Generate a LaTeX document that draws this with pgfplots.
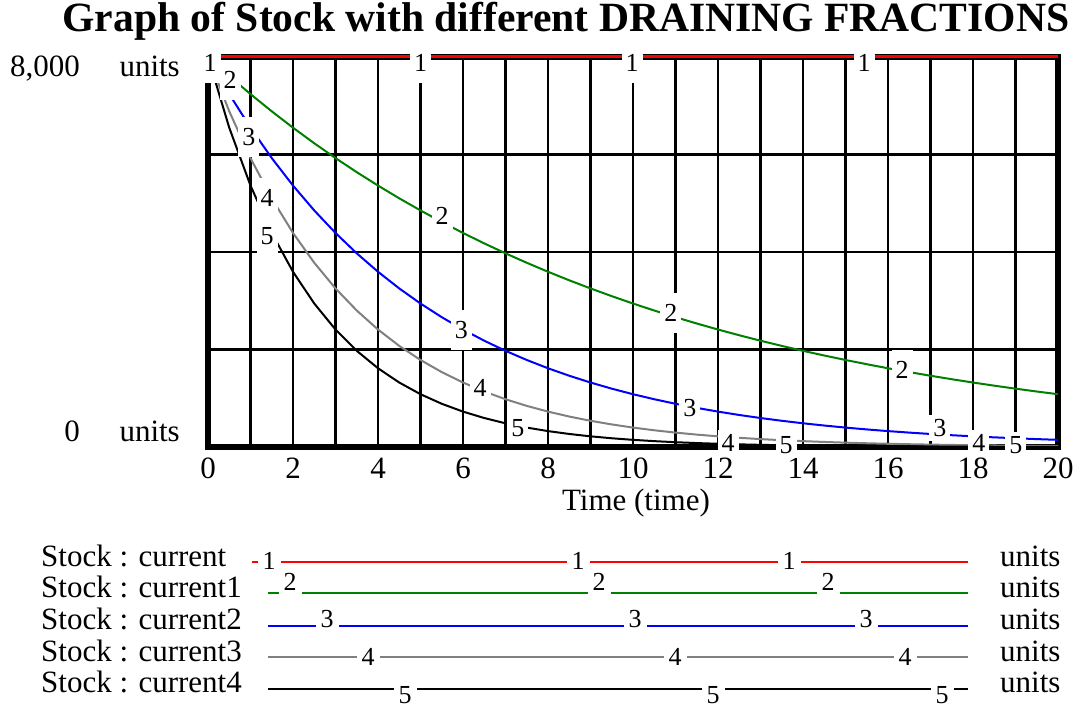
\documentclass[border=0pt]{standalone}
\usepackage{pgfplots}
\pgfplotsset{compat=1.18}
\usepackage{fontspec}
\setmainfont{Liberation Serif}
\newcommand\f{\fontsize{31}{36}\selectfont}
\newcommand\fs{\fontsize{26}{30}\selectfont}
\definecolor{sred}{RGB}{255,0,0}
\definecolor{sgreen}{RGB}{0,128,0}
\definecolor{sblue}{RGB}{0,0,255}
\definecolor{sgray}{RGB}{128,128,128}
\begin{document}
\begin{tikzpicture}[lab/.style={fill=white,inner xsep=4pt,inner ysep=11pt,font=\fs},
  labb/.style={fill=white,inner xsep=4pt,inner ysep=4pt,font=\fs},
  labl/.style={fill=white,inner xsep=5pt,inner ysep=1pt,font=\fs}]
\begin{axis}[
  at={(208pt,261pt)}, anchor=south west,
  width=850pt, height=390pt, scale only axis,
  xmin=0, xmax=20, ymin=0, ymax=8000,
  xtick={0,2,...,20}, minor xtick={1,3,...,19},
  xticklabels={0,2,4,6,8,10,12,14,16,18,20},
  ytick={2000,4000,6000}, yticklabels={,,},
  grid=both,
  grid style={black, line width=2.5pt},
  minor grid style={black, line width=2.5pt},
  major grid style={black, line width=2.5pt},
  major tick length=0pt, minor tick length=0pt,
  axis line style={line width=6pt},
  xticklabel style={font=\f, anchor=base, yshift=-32pt, inner sep=0pt},
  set layers, clip=false,
]
\addplot[sred, line width=3pt] coordinates {(0,8000) (20,8000)};
\addplot[sgreen, line width=2pt] coordinates {
(0,8000)(0.5,7609.8)(1,7238.7)(1.5,6885.6)(2,6549.8)(2.5,6230.4)(3,5926.5)(3.5,5637.5)(4,5362.6)(4.5,5101.0)
(5,4852.2)(5.5,4615.6)(6,4390.5)(6.5,4176.3)(7,3972.7)(7.5,3778.9)(8,3594.6)(8.5,3419.3)(9,3252.5)(9.5,3093.9)
(10,2943.0)(10.5,2799.4)(11,2662.9)(11.5,2533.0)(12,2409.5)(12.5,2292.0)(13,2180.2)(13.5,2073.9)(14,1972.7)(14.5,1876.5)
(15,1785.0)(15.5,1697.9)(16,1615.1)(16.5,1536.4)(17,1461.4)(17.5,1390.2)(18,1322.4)(18.5,1257.9)(19,1196.5)(19.5,1138.2)(20,1082.7)};
\addplot[sblue, line width=2pt] coordinates {
(0,8000)(0.5,7238.7)(1,6549.8)(1.5,5926.5)(2,5362.6)(2.5,4852.2)(3,4390.5)(3.5,3972.7)(4,3594.6)(4.5,3252.5)
(5,2943.0)(5.5,2662.9)(6,2409.5)(6.5,2180.2)(7,1972.7)(7.5,1785.0)(8,1615.1)(8.5,1461.4)(9,1322.4)(9.5,1196.5)
(10,1082.7)(10.5,979.7)(11,886.4)(11.5,802.1)(12,725.8)(12.5,656.7)(13,594.2)(13.5,537.6)(14,486.5)(14.5,440.2)
(15,398.3)(15.5,360.4)(16,326.1)(16.5,295.1)(17,267.0)(17.5,241.6)(18,218.6)(18.5,197.8)(19,179.0)(19.5,161.9)(20,146.5)};
\addplot[sgray, line width=2pt] coordinates {
(0,8000)(0.5,6885.6)(1,5926.5)(1.5,5101.0)(2,4390.5)(2.5,3778.9)(3,3252.5)(3.5,2799.4)(4,2409.5)(4.5,2073.9)
(5,1785.0)(5.5,1536.4)(6,1322.4)(6.5,1138.2)(7,979.7)(7.5,843.2)(8,725.8)(8.5,624.7)(9,537.6)(9.5,462.7)
(10,398.3)(10.5,342.8)(11,295.1)(11.5,254.0)(12,218.6)(12.5,188.2)(13,161.9)(13.5,139.4)(14,120.0)(14.5,103.3)
(15,88.9)(15.5,76.5)(16,65.8)(16.5,56.7)(17,48.8)(17.5,42.0)(18,36.1)(18.5,31.1)(19,26.8)(19.5,23.0)(20,19.8)};
\addplot[black, line width=2pt] coordinates {
(0,8000)(0.5,6549.8)(1,5362.6)(1.5,4390.5)(2,3594.6)(2.5,2943.0)(3,2409.5)(3.5,1972.7)(4,1615.1)(4.5,1322.4)
(5,1082.7)(5.5,886.4)(6,725.8)(6.5,594.2)(7,486.5)(7.5,398.3)(8,326.1)(8.5,267.0)(9,218.6)(9.5,179.0)
(10,146.5)(10.5,120.0)(11,98.2)(11.5,80.4)(12,65.8)(12.5,53.9)(13,44.1)(13.5,36.1)(14,29.6)(14.5,24.2)
(15,19.8)(15.5,16.2)(16,13.3)(16.5,10.9)(17,8.9)(17.5,7.3)(18,6.0)(18.5,4.9)(19,4.0)(19.5,3.3)(20,2.7)};
% curve labels
\node[lab] at (axis cs:0.05,7877) {1};
\node[lab] at (axis cs:5.0,7877) {1};
\node[lab] at (axis cs:9.98,7877) {1};
\node[lab] at (axis cs:15.44,7877) {1};
\node[lab] at (axis cs:0.52,7528) {2};
\node[lab] at (axis cs:5.51,4738) {2};
\node[lab] at (axis cs:10.89,2749) {2};
\node[lab] at (axis cs:16.33,1580) {2};
\node[lab] at (axis cs:0.96,6359) {3};
\node[lab] at (axis cs:5.96,2400) {3};
\node[lab] at (axis cs:11.34,800) {3};
\node[labb] at (axis cs:17.22,390) {3};
\node[lab] at (axis cs:1.39,5108) {4};
\node[lab] at (axis cs:6.40,1210) {4};
\node[labb] at (axis cs:12.24,82) {4};
\node[labb] at (axis cs:18.14,82) {4};
\node[lab] at (axis cs:1.39,4328) {5};
\node[labb] at (axis cs:7.29,390) {5};
\node[labb] at (axis cs:13.6,41) {5};
\node[labb] at (axis cs:19.01,41) {5};
\end{axis}
% title
\node[anchor=base, font=\fontsize{41.6}{48}\selectfont\bfseries] at (566pt,676pt) {Graph of Stock with different DRAINING FRACTIONS};
% y labels
\node[anchor=base east, inner sep=0pt, font=\f] at (80pt,631pt) {8,000};
\node[anchor=base east, inner sep=0pt, font=\f] at (180pt,631pt) {units};
\node[anchor=base east, inner sep=0pt, font=\f] at (80pt,266pt) {0};
\node[anchor=base east, inner sep=0pt, font=\f] at (180pt,266pt) {units};
% x label
\node[anchor=base, inner sep=0pt, font=\f] at (636pt,197pt) {Time (time)};
% legend
\foreach \txt/\yb in {Stock : current/141, Stock : current1/110, Stock : current2/78, Stock : current3/46, Stock : current4/15}{
  \node[anchor=base west, inner sep=0pt, font=\f] at (41pt,\yb pt) {\txt};
  \node[anchor=base west, inner sep=0pt, font=\f] at (1000pt,\yb pt) {units};
}
\draw[sred, line width=1.6pt] (252pt,146pt) -- (968pt,146pt);
\draw[sgreen, line width=1.6pt] (268pt,115pt) -- (968pt,115pt);
\draw[sblue, line width=1.6pt] (268pt,82pt) -- (968pt,82pt);
\draw[sgray, line width=1.6pt] (268pt,51pt) -- (968pt,51pt);
\draw[black, line width=1.6pt] (268pt,19pt) -- (968pt,19pt);
\foreach \x in {269,578,789}{\node[labl] at (\x pt,147pt) {1};}
\foreach \x in {290,599,828}{\node[labl,inner ysep=6pt] at (\x pt,126pt) {2};}
\foreach \x in {327,635,866}{\node[labl] at (\x pt,89pt) {3};}
\foreach \x in {368,675,905}{\node[labl] at (\x pt,51pt) {4};}
\foreach \x in {405,713,942}{\node[labl] at (\x pt,13pt) {5};}
\pgfresetboundingbox
\useasboundingbox (0,0) rectangle (1086pt,708pt);
\end{tikzpicture}
\end{document}
